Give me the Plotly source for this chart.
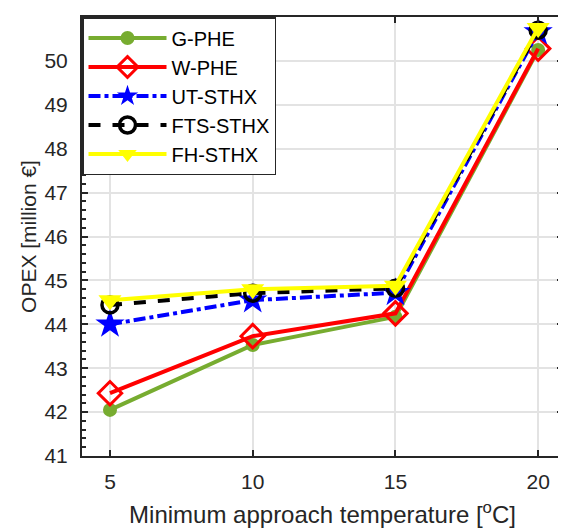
import plotly.graph_objects as go

temps = [5, 10, 15, 20]
g_phe = [42.05, 43.53, 44.17, 50.25]
w_phe = [42.43, 43.73, 44.25, 50.28]
ut_sthx = [44.0, 44.55, 44.72, 50.66]
fts_sthx = [44.44, 44.71, 44.82, 50.70]
fh_sthx = [44.55, 44.80, 44.88, 50.75]

series = [
    ("G-PHE", g_phe, "#77AC30", "solid", "circle", 14, "#77AC30", 0),
    ("W-PHE", w_phe, "#FF0000", "solid", "diamond-open", 18, "#FF0000", 3),
    ("UT-STHX", ut_sthx, "#0000FF", "dashdot", "star", 22, "#0000FF", 0),
    ("FTS-STHX", fts_sthx, "#000000", "dash", "circle-open", 16, "#000000", 3.5),
    ("FH-STHX", fh_sthx, "#FFFF00", "solid", "triangle-down", 20, "#FFFF00", 0),
]

fig = go.Figure()
for name, vals, col, dash, sym, size, mcol, mlw in series:
    fig.add_trace(go.Scatter(
        x=temps, y=vals, name=name, mode="lines+markers",
        line=dict(color=col, width=4, dash=dash),
        marker=dict(symbol=sym, size=size, color=mcol,
                    line=dict(color=col, width=mlw)),
    ))

FONT = "Liberation Sans, Arial"
axis_common = dict(
    showline=True, linecolor="#262626", linewidth=2, mirror="ticks",
    ticks="inside", tickcolor="#262626", ticklen=6, tickwidth=1.5,
    showgrid=True, gridcolor="#e3e3e3", gridwidth=1.5, zeroline=False,
    tickfont=dict(family=FONT, size=21, color="#262626"),
    automargin=False,
)

fig.update_layout(
    width=558, height=522,
    margin=dict(l=74, r=3, t=9, b=74),
    paper_bgcolor="white", plot_bgcolor="white",
    font=dict(family=FONT, color="#262626"),
    xaxis=dict(range=[4.02, 20.87], tickvals=temps, ticklabelstandoff=6,
               title=dict(text="Minimum approach temperature [<sup>o</sup>C]",
                          font=dict(size=24), standoff=14),
               **axis_common),
    yaxis=dict(range=[41, 51], dtick=1, ticklabelstandoff=8,
               minor=dict(ticks="inside", dtick=0.2, ticklen=4, tickcolor="#262626", showgrid=False),
               title=dict(text="OPEX [million €]", font=dict(size=21), standoff=2),
               **axis_common),
    legend=dict(x=0, y=1, xanchor="left", yanchor="top",
                bgcolor="white", bordercolor="#262626", borderwidth=1.5,
                font=dict(family=FONT, size=20, color="#000000"),
                itemwidth=78, tracegroupgap=0),
    showlegend=True,
)

fig.write_html("out.html")
